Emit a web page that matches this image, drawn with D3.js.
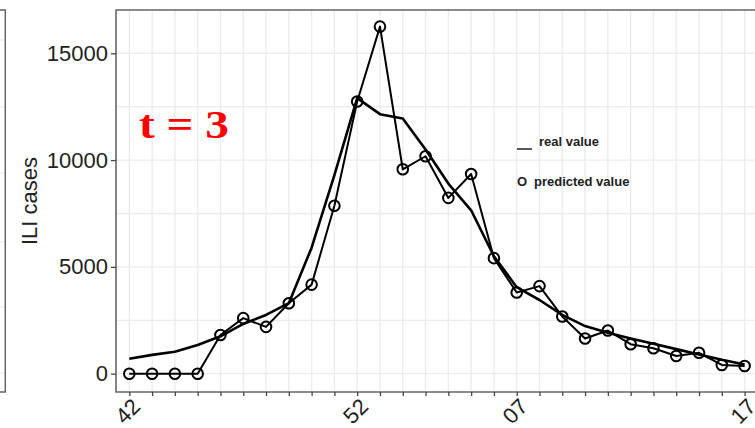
<!DOCTYPE html>
<html>
<head>
<meta charset="utf-8">
<script src="https://cdn.jsdelivr.net/npm/d3@7"></script>
<style>
  body { margin: 0; background: #fff; }
  svg { display: block; font-family: "Liberation Sans", Arial, sans-serif; }
</style>
</head>
<body>
<script>
// weeks 42..52 then 01..17
var weeks = ["42","43","44","45","46","47","48","49","50","51","52",
             "01","02","03","04","05","06","07","08","09","10",
             "11","12","13","14","15","16","17"];
var weekLabels = ["42","52","07","17"];

var realValue = [700, 880, 1030, 1340, 1750, 2330, 2750, 3300, 5900, 9300, 12900,
                 12150, 11950, 10500, 8900, 7650, 5500, 4050, 3450, 2750, 2230,
                 1920, 1650, 1400, 1150, 900, 650, 430];
var predicted = [0, 0, 0, 0, 1810, 2600, 2190, 3300, 4170, 7860, 12740,
                 16250, 9570, 10180, 8230, 9350, 5410, 3800, 4100, 2680, 1650,
                 2020, 1380, 1190, 830, 980, 410, 360];
var yTicks = [0, 5000, 10000, 15000];
var yGrid = [0, 2500, 5000, 7500, 10000, 12500, 15000];

var W = 755, H = 428;
var pLeft = 116, pTop = 10, pBottom = 392, pRight = 765;

var svg = d3.select("body").append("svg")
  .attr("width", W).attr("height", H);

var x = d3.scalePoint().domain(weeks).range([129.3, 744.6]);
var y = d3.scaleLinear().domain([-857, 17027]).range([pBottom, pTop]);

// previous panel edge on the far left
var prev = svg.append("g");
prev.selectAll("line.g").data([40, 107, 173, 242, 307, 373]).enter().append("line")
  .attr("x1", 0).attr("x2", 5).attr("y1", function(d){ return d; }).attr("y2", function(d){ return d; })
  .style("stroke", "#ebebeb").style("stroke-width", 1.2);
prev.append("path")
  .attr("d", "M0," + pTop + "H5.3V" + pBottom + "H0")
  .style("fill", "none").style("stroke", "#666").style("stroke-width", 1.5);

// grid
var grid = svg.append("g");
grid.selectAll("line.v").data(weeks).enter().append("line")
  .attr("x1", function(d){ return x(d); }).attr("x2", function(d){ return x(d); })
  .attr("y1", pTop).attr("y2", pBottom)
  .style("stroke", "#ebebeb").style("stroke-width", 1.3);
grid.selectAll("line.h").data(yGrid).enter().append("line")
  .attr("x1", pLeft).attr("x2", pRight)
  .attr("y1", function(d){ return y(d); }).attr("y2", function(d){ return y(d); })
  .style("stroke", "#ebebeb").style("stroke-width", 1.3);

// panel border
svg.append("path")
  .attr("d", "M" + pRight + "," + pTop + "H" + pLeft + "V" + pBottom + "H" + pRight)
  .style("fill", "none").style("stroke", "#666").style("stroke-width", 1.6);

// axes
var yAxis = svg.append("g")
  .attr("transform", "translate(" + pLeft + ",0)")
  .call(d3.axisLeft(y).tickValues(yTicks).tickSize(5).tickPadding(3).tickFormat(d3.format("d")));
yAxis.select(".domain").remove();
yAxis.selectAll("line").style("stroke", "#444").style("stroke-width", 1.3);
yAxis.selectAll("text").style("font-size", "22px").style("fill", "#222")
  .attr("font-family", "Liberation Sans, Arial, sans-serif");

var xAxis = svg.append("g")
  .attr("transform", "translate(0," + pBottom + ")")
  .call(d3.axisBottom(x).tickSize(4).tickFormat(function(d){ return weekLabels.indexOf(d) >= 0 ? d : ""; }));
xAxis.select(".domain").remove();
xAxis.selectAll("line").style("stroke", "#444").style("stroke-width", 1.3);
xAxis.selectAll("text")
  .style("font-size", "22px").style("fill", "#222")
  .attr("font-family", "Liberation Sans, Arial, sans-serif")
  .attr("text-anchor", "end")
  .attr("dy", null)
  .attr("transform", "translate(7,11) rotate(-45)");

svg.append("text")
  .attr("transform", "translate(37,201) rotate(-90)")
  .attr("text-anchor", "middle")
  .style("font-size", "22px").style("fill", "#222")
  .text("ILI cases");

// series
var g = svg.append("g");
g.append("path").datum(realValue)
  .attr("d", d3.line().x(function(d, i){ return x(weeks[i]); }).y(function(d){ return y(d); }))
  .style("fill", "none").style("stroke", "#000").style("stroke-width", 2.6)
  .style("stroke-linejoin", "round");
g.append("path").datum(predicted)
  .attr("d", d3.line().x(function(d, i){ return x(weeks[i]); }).y(function(d){ return y(d); }))
  .style("fill", "none").style("stroke", "#000").style("stroke-width", 2)
  .style("stroke-linejoin", "round");
g.selectAll("circle").data(predicted).enter().append("circle")
  .attr("cx", function(d, i){ return x(weeks[i]); })
  .attr("cy", function(d){ return y(d); })
  .attr("r", 5.3)
  .style("fill", "none").style("stroke", "#000").style("stroke-width", 2);

// annotation
svg.append("text")
  .attr("x", 139).attr("y", 138)
  .attr("textLength", 90).attr("lengthAdjust", "spacingAndGlyphs")
  .style("font-family", "Liberation Serif, Times New Roman, serif")
  .style("font-weight", "bold").style("font-size", "41px").style("fill", "#f00")
  .text("t = 3");

// legend
var leg = svg.append("g").style("font-weight", "bold").style("fill", "#222");
leg.append("line").attr("x1", 517).attr("x2", 532).attr("y1", 149).attr("y2", 149)
  .style("stroke", "#222").style("stroke-width", 1.5);
leg.append("text").attr("x", 539).attr("y", 146).style("font-size", "13px").text("real value");
leg.append("text").attr("x", 517).attr("y", 186).style("font-size", "13px").text("O");
leg.append("text").attr("x", 534).attr("y", 186).style("font-size", "13px").text("predicted value");
</script>
</body>
</html>
